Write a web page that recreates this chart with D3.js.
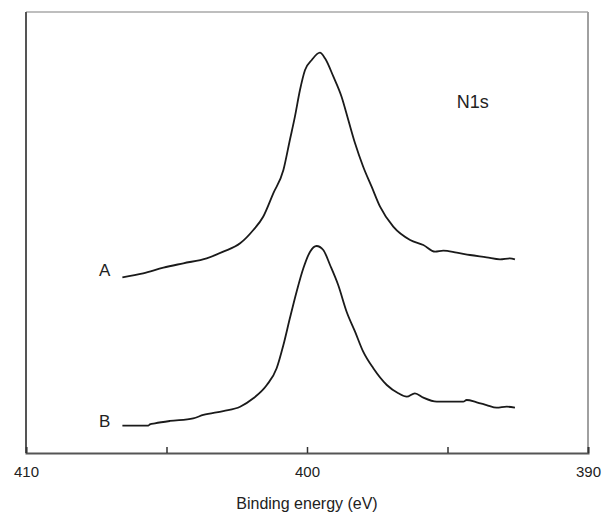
<!DOCTYPE html>
<html>
<head>
<meta charset="utf-8">
<script src="https://cdn.jsdelivr.net/npm/d3@7"></script>
<style>
  body { margin: 0; background: #fff; }
  svg text { font-family: "Liberation Sans", Arial, Helvetica, sans-serif; fill: #222; }
</style>
</head>
<body>
<svg id="chart" width="605" height="515"></svg>
<script>
// Binding energy (eV) and intensity (arbitrary units) for spectrum A
const energyA = [406.57, 405.83, 405.11, 404.40, 403.57, 402.98, 402.38, 401.91, 401.56, 401.20,
  400.84, 400.61, 400.43, 400.25, 400.07, 399.83, 399.54, 399.36, 399.06, 398.77,
  398.53, 398.29, 398.00, 397.70, 397.40, 396.93, 396.33, 395.86, 395.44, 395.15,
  394.67, 394.20, 393.61, 393.13, 392.78, 392.60];
const intensityA = [39.84, 40.75, 42.02, 43.02, 44.15, 45.65, 47.55, 50.57, 53.58, 58.89,
  64.17, 70.98, 76.26, 82.31, 86.85, 89.12, 90.77, 89.50, 85.33, 80.79,
  75.51, 70.23, 64.92, 60.39, 55.85, 51.32, 48.30, 47.17, 45.65, 45.87,
  45.42, 44.90, 44.38, 43.92, 44.15, 43.92];

// Spectrum B
const energyB = [406.57, 405.65, 405.59, 405.41, 404.88, 404.05, 403.69, 402.98, 402.38, 401.91,
  401.43, 401.08, 400.84, 400.61, 400.37, 400.13, 399.89, 399.66, 399.42, 399.18,
  398.89, 398.59, 398.29, 398.00, 397.64, 397.16, 396.75, 396.45, 396.16, 395.86,
  395.38, 394.91, 394.44, 394.32, 393.96, 393.61, 393.25, 392.89, 392.60];
const intensityB = [6.19, 6.19, 6.50, 6.73, 7.26, 7.87, 8.62, 9.52, 10.50, 12.40,
  15.42, 19.21, 24.49, 30.54, 36.58, 41.88, 45.65, 46.94, 46.03, 42.63,
  38.10, 32.04, 27.51, 22.97, 19.21, 15.42, 13.54, 12.77, 13.54, 12.54,
  11.63, 11.63, 11.63, 12.02, 11.50, 10.88, 10.27, 10.50, 10.27];

const tickValues = [410, 405, 400, 395, 390];
const tickLabels = ["410", "", "400", "", "390"];
const seriesLabels = ["A", "B"];
const xTitle = "Binding energy (eV)";
const annotation = "N1s";

const svg = d3.select("#chart");
const mLeft = 26, mRight = 588, mTop = 12, mBottom = 453;

const x = d3.scaleLinear().domain([410, 390]).range([mLeft, mRight]);
const y = d3.scaleLinear().domain([0, 100]).range([mBottom, mTop]);

// frame: light top/right, dark left/bottom
svg.append("line").attr("x1", mLeft).attr("x2", mRight).attr("y1", mTop).attr("y2", mTop)
  .attr("stroke", "#a8a8a8").attr("stroke-width", 1.5);
svg.append("line").attr("x1", mRight).attr("x2", mRight).attr("y1", mTop).attr("y2", mBottom)
  .attr("stroke", "#a0a0a0").attr("stroke-width", 2);
svg.append("line").attr("x1", mLeft).attr("x2", mLeft).attr("y1", mTop).attr("y2", mBottom)
  .attr("stroke", "#555").attr("stroke-width", 2);

const axis = d3.axisBottom(x).tickValues(tickValues)
  .tickFormat((d, i) => tickLabels[i]).tickSize(-6).tickPadding(13);
const gx = svg.append("g").attr("transform", `translate(0,${mBottom})`).call(axis);
gx.select(".domain").attr("stroke", "#555").attr("stroke-width", 2);
gx.selectAll(".tick line").attr("stroke", "#333").attr("stroke-width", 1.5);
gx.selectAll(".tick text").attr("font-size", 15).attr("fill", "#222")
  .attr("font-family", "Liberation Sans, Arial, sans-serif");

svg.append("text").attr("x", (mLeft + mRight) / 2).attr("y", 509)
  .attr("text-anchor", "middle").attr("font-size", 16).text(xTitle);

const line = d3.line().x(d => x(d[0])).y(d => y(d[1])).curve(d3.curveMonotoneX);
const dataA = energyA.map((e, i) => [e, intensityA[i]]);
const dataB = energyB.map((e, i) => [e, intensityB[i]]);

[dataA, dataB].forEach(d => {
  svg.append("path").datum(d).attr("d", line)
    .attr("fill", "none").attr("stroke", "#1a1a1a").attr("stroke-width", 1.8)
    .attr("stroke-linejoin", "round");
});

// series labels next to start of each curve
svg.append("text").attr("x", x(energyA[0]) - 12).attr("y", y(intensityA[0]) - 1)
  .attr("text-anchor", "end").attr("font-size", 17).text(seriesLabels[0]);
svg.append("text").attr("x", x(energyB[0]) - 12).attr("y", y(intensityB[0]) + 1)
  .attr("text-anchor", "end").attr("font-size", 17).text(seriesLabels[1]);

svg.append("text").attr("x", x(394.1)).attr("y", 108)
  .attr("text-anchor", "middle").attr("font-size", 18).text(annotation);
</script>
</body>
</html>
